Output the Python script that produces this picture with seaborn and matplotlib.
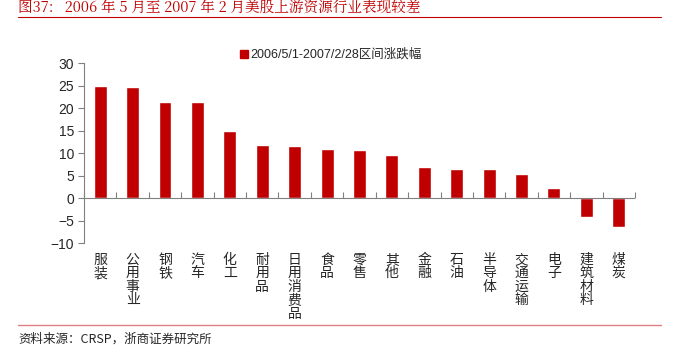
import matplotlib
matplotlib.use("Agg")
import matplotlib.pyplot as plt
import seaborn as sns
from matplotlib.lines import Line2D

categories = ["服装", "公用事业", "钢铁", "汽车", "化工", "耐用品", "日用消费品", "食品", "零售",
              "其他", "金融", "石油", "半导体", "交通运输", "电子", "建筑材料", "煤炭"]
values = [25.0, 24.7, 21.4, 21.4, 14.8, 11.7, 11.6, 10.8, 10.7,
          9.6, 7.0, 6.5, 6.4, 5.4, 2.3, -4.3, -6.4]
series_name = "2006/5/1-2007/2/28区间涨跌幅"
yticks = [-10, -5, 0, 5, 10, 15, 20, 25, 30]

sns.set_style("white")
plt.rcParams['font.family'] = ['Liberation Sans', 'Noto Sans CJK SC', 'DejaVu Sans']

fig = plt.figure(figsize=(6.74, 3.53), dpi=100)
ax = fig.add_axes([0.1246, 0.3116, 0.9421 - 0.1246, 0.8215 - 0.3116])

sns.barplot(x=categories, y=values, color='#C00000', width=0.4, saturation=1,
            label=series_name, ax=ax)

ax.set_xlim(-0.5, len(categories) - 0.5)
ax.set_ylim(-10, 30)
ax.set_yticks(yticks)
ax.tick_params(axis='y', direction='out', length=4, width=0.8, color='#808080',
               labelsize=10, pad=3, left=True)
for s in ['top', 'right', 'bottom']:
    ax.spines[s].set_visible(False)
ax.spines['left'].set_color('#808080')
ax.spines['left'].set_linewidth(0.8)

# category labels stacked vertically under the plot
ax.set_xticks(range(len(categories)))
ax.set_xticklabels(['\n'.join(c) for c in categories], fontsize=10,
                   family=['Noto Sans CJK SC'], linespacing=0.95, va='top')
ax.tick_params(axis='x', length=0, pad=7)
ax.set_xlabel('')
ax.set_ylabel('')

# zero axis with inward ticks between categories
ax.axhline(0, color='#808080', lw=0.8, zorder=1)
sec = ax.secondary_xaxis(10 / 40)
sec.set_xticks([k + 0.5 for k in range(-1, len(categories))])
sec.tick_params(direction='in', length=4, width=0.8, color='#808080', labelbottom=False)
sec.spines['bottom'].set_visible(False)

handle = Line2D([], [], marker='s', color='#C00000', ls='', markersize=6)
ax.legend([handle], [series_name], loc='center left', bbox_to_anchor=(0.346, 0.845),
          bbox_transform=fig.transFigure, frameon=False,
          handletextpad=0.1, handlelength=0.8, borderpad=0,
          prop={'family': ['Liberation Sans', 'Noto Sans CJK SC'], 'size': 9})

# header and footer
fig.text(0.027, 1 - 16 / 353, "图37:   2006 年 5 月至 2007 年 2 月美股上游资源行业表现较差",
         color='#C00000', fontsize=10.5, va='bottom', ha='left',
         family=['Noto Serif CJK SC', 'Noto Sans CJK SC'])
fig.add_artist(Line2D([0.027, 0.98], [1 - 17 / 353] * 2, color='#C00000', lw=0.8,
                      transform=fig.transFigure))
fig.add_artist(Line2D([0.027, 0.98], [1 - 325 / 353] * 2, color='#E08080', lw=1.0,
                      transform=fig.transFigure))
fig.text(0.027, 1 - 339 / 353, "资料来源：CRSP，浙商证券研究所", fontsize=9, va='center',
         ha='left', family=['Noto Sans CJK SC'])

fig.savefig("out.png", dpi=100)
